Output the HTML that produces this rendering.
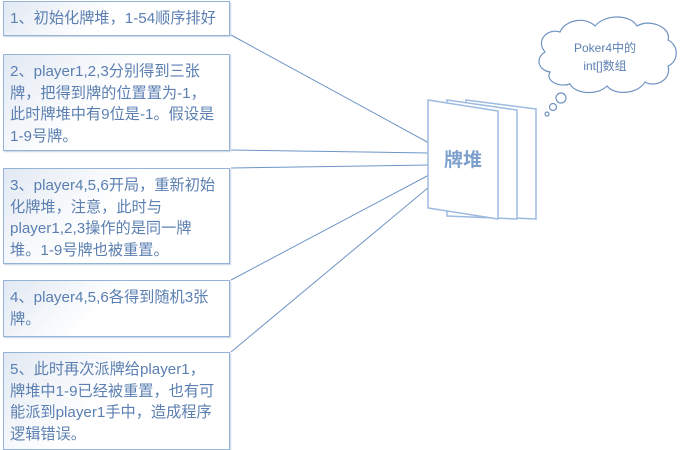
<!DOCTYPE html>
<html><head><meta charset="utf-8"><style>
body{margin:0;width:682px;height:450px;background:#fff;position:relative;overflow:hidden;font-family:"Liberation Sans","Noto Sans CJK SC",sans-serif;}
.b{position:absolute;left:3px;width:219px;padding:6px 0 0 6px;border:1.5px solid #95b3d7;background:linear-gradient(135deg,#e2e9f3 0%,#fff 45%,#fff 100%);color:#5b7fb1;font-size:15.2px;line-height:21.5px;white-space:nowrap;overflow:hidden;box-sizing:content-box;box-shadow:1px 1px 1px #c8d4e4;}
svg{position:absolute;left:0;top:0;}
</style></head><body>
<svg width="682" height="450">
<g stroke="#6f96c8" stroke-width="1">
<line x1="231" y1="35" x2="429" y2="143"/>
<line x1="231" y1="150" x2="429" y2="153"/>
<line x1="231" y1="168" x2="429" y2="165"/>
<line x1="231" y1="280" x2="429" y2="175"/>
<line x1="231" y1="352" x2="429" y2="187"/>
</g>
<g fill="#fff" stroke="#9dbbe0" stroke-width="1.5">
<polygon points="466,100 536,109 536,219 466,216"/>
<polygon points="447,100 517,110 517,219 447,216"/>
<polygon points="428,100 498,111 498,219 428,208"/>
</g>
<text x="463" y="166" text-anchor="middle" font-size="19" fill="#7d9fcb" font-family="Liberation Sans,Noto Sans CJK SC,sans-serif" font-weight="bold">牌堆</text>
<g fill="#fff" stroke="#6f93c0" stroke-width="1.2">
<path d="M545,52 C535,40 548,28 560,32 C565,20 585,16 595,26 C605,14 630,14 637,26 C650,18 672,28 668,40 C680,46 678,62 668,66 C672,80 655,88 645,82 C638,94 615,96 607,86 C597,96 575,94 570,84 C558,88 545,80 550,72 C538,70 535,58 545,52 Z"/>
<circle cx="561" cy="98" r="5"/>
<circle cx="553" cy="107" r="3.5"/>
<circle cx="547" cy="114" r="2"/>
</g>
<text x="605" y="52" text-anchor="middle" font-size="12" fill="#5b7fb1" font-family="Liberation Sans,Noto Sans CJK SC,sans-serif">Poker4中的</text>
<text x="605" y="70" text-anchor="middle" font-size="12" fill="#5b7fb1" font-family="Liberation Sans,Noto Sans CJK SC,sans-serif">int[]数组</text>
</svg>
<div class="b" style="top:1px;height:27px;">1、初始化牌堆，1-54顺序排好</div>
<div class="b" style="top:54px;height:89px;">2、player1,2,3分别得到三张<br>牌，把得到牌的位置置为-1，<br>此时牌堆中有9位是-1。假设是<br>1-9号牌。</div>
<div class="b" style="top:168px;height:88px;">3、player4,5,6开局，重新初始<br>化牌堆，注意，此时与<br>player1,2,3操作的是同一牌<br>堆。1-9号牌也被重置。</div>
<div class="b" style="top:280px;height:49px;">4、player4,5,6各得到随机3张<br>牌。</div>
<div class="b" style="top:352px;height:90px;">5、此时再次派牌给player1，<br>牌堆中1-9已经被重置，也有可<br>能派到player1手中，造成程序<br>逻辑错误。</div>
</body></html>
